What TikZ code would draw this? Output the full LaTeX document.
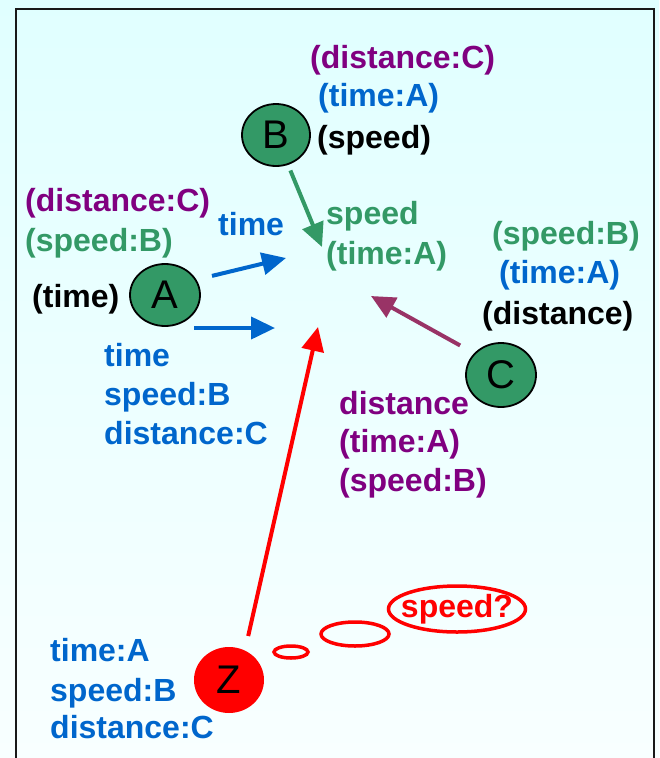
\documentclass[tikz,border=0pt]{standalone}
\usepackage{fontspec}
\setmainfont{Liberation Sans}
\usetikzlibrary{shapes.geometric,arrows.meta}
\definecolor{bggtop}{RGB}{224,255,255}
\definecolor{bggbot}{RGB}{248,255,255}
\definecolor{agreen}{RGB}{51,153,102}
\definecolor{apurple}{RGB}{128,0,128}
\definecolor{ablue}{RGB}{0,102,204}
\definecolor{amaroon}{RGB}{153,51,102}
\definecolor{ared}{RGB}{255,0,0}
\tikzset{
  lbl/.style={anchor=west,inner sep=0pt,yshift=-3pt,font=\fontsize{32}{38}\selectfont\bfseries},
  agent/.style={ellipse,draw=black,line width=1.8pt,fill=agreen,inner sep=0pt,
     minimum width=70pt,minimum height=62pt,font=\fontsize{40}{40}\selectfont},
  arr/.style={line width=4pt,-{Triangle[length=24pt,width=22pt]}},
  bubble/.style={ellipse,draw=ared,line width=3.5pt,inner sep=0pt}
}
\newcommand{\ph}{\vphantom{(}}
\begin{document}
\begin{tikzpicture}[x=1pt,y=-1pt]
\useasboundingbox (0,0) rectangle (659,758);
\shade[top color=bggtop,bottom color=bggbot] (0,0) rectangle (659,758);
\draw[line width=2pt,color=black!90] (16,758) -- (16,9) -- (654,9) -- (654,758);

% agents
\node[agent,minimum width=68pt] (B) at (276,135) {B};
\node[agent] (A) at (165,295) {A};
\node[agent,minimum height=64pt] (C) at (501,375) {C};
\node[agent,fill=ared,draw=none,minimum height=66pt] (Z) at (229,680) {Z};

% labels around B
\node[lbl,text=apurple] (b1) at (310,57) {\ph(distance:C)};
\node[lbl,text=ablue] (b2) at (318,95) {\ph(time:A)};
\node[lbl,text=black] (b3) at (317,137) {\ph(speed)};
\node[lbl,text=agreen] (b4) at (326,213) {\ph speed};
\node[lbl,text=agreen] (b5) at (326,253) {\ph(time:A)};

% labels around A
\node[lbl,text=ablue] (a0) at (218,224) {\ph time};
\node[lbl,text=apurple] (a1) at (25,200) {\ph(distance:C)};
\node[lbl,text=agreen] (a2) at (25,240) {\ph(speed:B)};
\node[lbl,text=black] (a3) at (32,296) {\ph(time)};
\node[lbl,text=ablue] (a4) at (104,355) {\ph time};
\node[lbl,text=ablue] (a5) at (104,394) {\ph speed:B};
\node[lbl,text=ablue] (a6) at (104,433) {\ph distance:C};

% labels around C
\node[lbl,text=agreen] (c1) at (492,233) {\ph(speed:B)};
\node[lbl,text=ablue] (c2) at (499,272) {\ph(time:A)};
\node[lbl,text=black] (c3) at (482,313) {\ph(distance)};
\node[lbl,text=apurple] (c4) at (339,403) {\ph distance};
\node[lbl,text=apurple] (c5) at (339,441) {\ph(time:A)};
\node[lbl,text=apurple] (c6) at (339,480) {\ph(speed:B)};

% labels around Z
\node[lbl,text=ablue] (z1) at (50,650) {\ph time:A};
\node[lbl,text=ablue] (z2) at (50,690) {\ph speed:B};
\node[lbl,text=ablue] (z3) at (50,727) {\ph distance:C};

% thought bubbles
\node[bubble,minimum width=34pt,minimum height=12pt] (t1) at (291,652) {};
\node[bubble,minimum width=68pt,minimum height=24pt] (t2) at (355,634) {};
\node[bubble,minimum width=137pt,minimum height=46pt,text=ared,
      font=\fontsize{32}{32}\selectfont\bfseries] (t3) at (457,609) {\makebox[0pt]{speed?}};

% arrow tips
\coordinate (btip) at (322,247);
\coordinate (a1tip) at (286,258);
\coordinate (a2s) at (194,328);
\coordinate (a2tip) at (275,328);
\coordinate (ctip) at (371,296);
\coordinate (ztip) at (318,327);

\draw[arr,color=agreen,shorten <=6pt] (B.-68) -- (btip);
\draw[arr,color=ablue,shorten <=16pt] (A.26) -- (a1tip);
\draw[arr,color=ablue] (a2s) -- (a2tip);
\draw[arr,color=amaroon,shorten <=16pt] (C.141.5) -- (ctip);
\draw[arr,color=ared,shorten <=14pt] (Z.62) -- (ztip);
\end{tikzpicture}
\end{document}
